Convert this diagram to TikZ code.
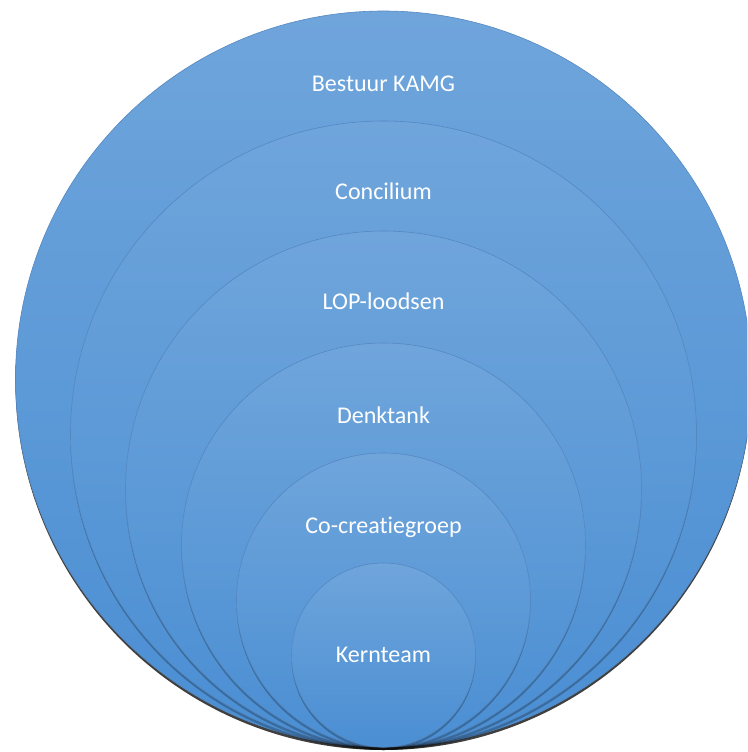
\documentclass[tikz,border=0pt]{standalone}
\usepackage{fontspec}
\setmainfont[Ligatures=NoCommon]{Carlito}
\usetikzlibrary{shadows}
\definecolor{ringtop}{HTML}{6FA5DB}
\definecolor{ringbot}{HTML}{4A8ED3}
\definecolor{ringline}{HTML}{5588C2}
\tikzset{
  ring/.style={circle, inner sep=0pt, outer sep=0pt, top color=ringtop, bottom color=ringbot,
    draw=ringline, line width=0.6pt,
    drop shadow={shadow xshift=0pt, shadow yshift=-3pt, opacity=#1, fill=black}},
  ring/.default=0.25,
  ringtext/.style={anchor=base, text=white, inner sep=0pt}
}
\begin{document}
\begin{tikzpicture}[x=1pt, y=-1pt, font=\fontsize{24}{28}\selectfont]
\def\cx{383.5} \def\by{747}
\useasboundingbox (0,0) rectangle (747,752);
\clip (0,0) rectangle (747,752);
% rings, outer to inner, all touching at the bottom
\foreach \r/\dy/\op/\txt/\n in {368/80/0.75/Bestuur KAMG/bestuur, 313/78/0.25/Concilium/concilium,
  258/78/0.25/LOP-loodsen/lop, 202/80/0.25/Denktank/denktank,
  147/80/0.25/Co-creatiegroep/cocreatie, 92/99/0.25/Kernteam/kernteam}{
  \node[ring=\op, minimum size={2*\r pt}] (\n) at (\cx,\by-\r) {};
  \node[ringtext] (\n-label) at ([yshift=-\dy pt]\n.north) {\txt};
}
\end{tikzpicture}
\end{document}
